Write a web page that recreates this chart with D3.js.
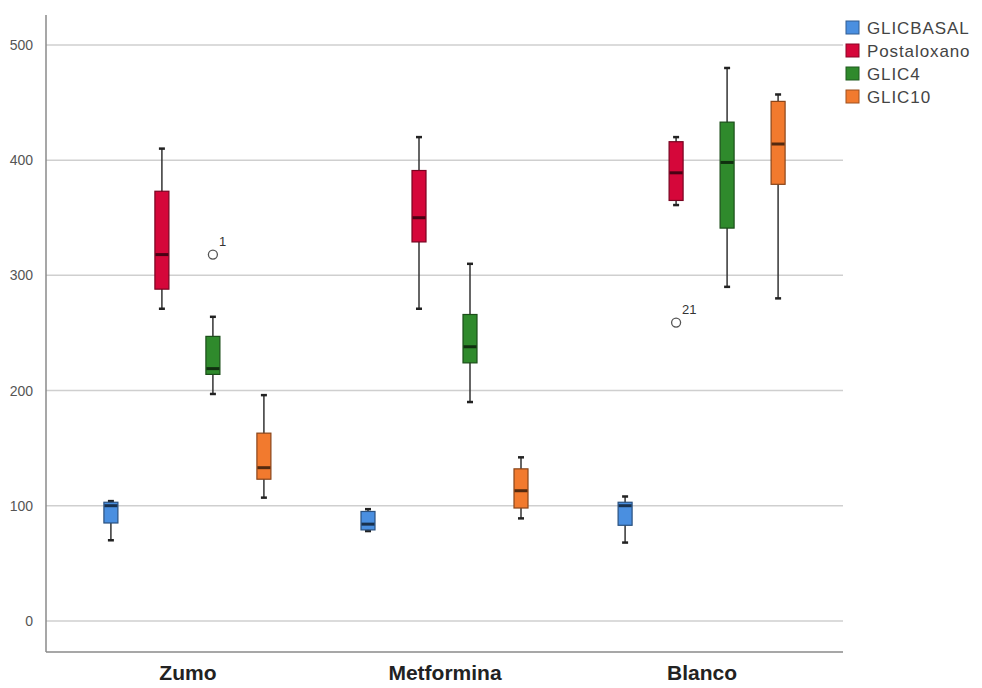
<!DOCTYPE html>
<html>
<head>
<meta charset="utf-8">
<script src="https://cdn.jsdelivr.net/npm/d3@7"></script>
<style>
  body { margin: 0; background: #fff; }
  svg { font-family: Arial, "Liberation Sans", sans-serif; }
</style>
</head>
<body>
<div id="chart"></div>
<script>
var groups = ["Zumo", "Metformina", "Blanco"];
var series = ["GLICBASAL", "Postaloxano", "GLIC4", "GLIC10"];
var colors = ["#4a8fe0", "#d5073a", "#2f8a2c", "#f27a2e"];
// one row per series, one value per group (Zumo, Metformina, Blanco)
var whiskerLow  = [[70, 78, 68],   [271, 271, 361], [197, 190, 290], [107, 89, 280]];
var q1          = [[85, 79, 83],   [288, 329, 365], [214, 224, 341], [123, 98, 379]];
var median      = [[100, 84, 100], [318, 350, 389], [219, 238, 398], [133, 113, 414]];
var q3          = [[103, 95, 103], [373, 391, 416], [247, 266, 433], [163, 132, 451]];
var whiskerHigh = [[104, 97, 108], [410, 420, 420], [264, 310, 480], [196, 142, 457]];
var outlierGroup  = ["Zumo", "Blanco"];
var outlierSeries = ["GLIC4", "Postaloxano"];
var outlierValue  = [318, 259];
var outlierLabel  = ["1", "21"];
var yTicks = [0, 100, 200, 300, 400, 500];

var width = 982, height = 688;
var plotL = 46, plotR = 843, plotT = 15, plotB = 652;

var svg = d3.select("#chart").append("svg")
    .attr("width", width)
    .attr("height", height);

var y = d3.scaleLinear().domain([-27, 526]).range([plotB, plotT]);
var x = d3.scalePoint().domain(groups).range([plotL, plotR]).padding(0.55);
var xs = d3.scaleBand().domain(series).range([-102, 102]);
var color = d3.scaleOrdinal().domain(series).range(colors);

// grid
svg.append("g")
    .selectAll("line")
    .data(yTicks)
    .enter()
    .append("line")
    .attr("x1", plotL).attr("x2", plotR)
    .attr("y1", function (d) { return y(d); })
    .attr("y2", function (d) { return y(d); })
    .attr("stroke", "#cfcfcf")
    .attr("stroke-width", 1.5);

// y axis
var yAxis = d3.axisLeft(y).tickValues(yTicks).tickSize(0).tickPadding(13);
var gy = svg.append("g").attr("transform", "translate(" + plotL + ",0)").call(yAxis);
gy.select(".domain").remove();
gy.selectAll("text").style("font-size", "14px").attr("fill", "#555");

svg.append("line")
    .attr("x1", plotL).attr("x2", plotL)
    .attr("y1", plotT).attr("y2", plotB)
    .attr("stroke", "#8a8a8a").attr("stroke-width", 1.5);

// x axis
var xAxis = d3.axisBottom(x).tickSize(0).tickPadding(13);
var gx = svg.append("g").attr("transform", "translate(0," + plotB + ")").call(xAxis);
gx.select(".domain").attr("stroke", "#8a8a8a").attr("stroke-width", 1.5)
    .attr("d", "M" + plotL + ",0H" + plotR);
gx.selectAll("text")
    .style("font-size", "21px")
    .style("font-weight", "bold")
    .attr("fill", "#222");

// boxes
var boxes = [];
series.forEach(function (s, si) {
    groups.forEach(function (g, gi) {
        boxes.push({
            group: g, series: s,
            lo: whiskerLow[si][gi], q1: q1[si][gi], med: median[si][gi],
            q3: q3[si][gi], hi: whiskerHigh[si][gi]
        });
    });
});

var boxW = 14, capW = 6;
var bx = svg.append("g")
    .selectAll("g")
    .data(boxes)
    .enter()
    .append("g")
    .attr("transform", function (d) {
        return "translate(" + (x(d.group) + xs(d.series) + xs.bandwidth() / 2) + ",0)";
    });

bx.append("line")
    .attr("x1", 0).attr("x2", 0)
    .attr("y1", function (d) { return y(d.hi); })
    .attr("y2", function (d) { return y(d.lo); })
    .attr("stroke", "#333").attr("stroke-width", 1.5);

bx.selectAll(".cap")
    .data(function (d) { return [d.hi, d.lo]; })
    .enter()
    .append("line")
    .attr("class", "cap")
    .attr("x1", -capW / 2).attr("x2", capW / 2)
    .attr("y1", function (v) { return y(v); })
    .attr("y2", function (v) { return y(v); })
    .attr("stroke", "#222").attr("stroke-width", 2.5);

bx.append("rect")
    .attr("x", -boxW / 2)
    .attr("width", boxW)
    .attr("y", function (d) { return y(d.q3); })
    .attr("height", function (d) { return y(d.q1) - y(d.q3); })
    .attr("fill", function (d) { return color(d.series); })
    .attr("stroke", function (d) { return d3.color(color(d.series)).darker(1.6); })
    .attr("stroke-width", 1.2);

bx.append("line")
    .attr("x1", -boxW / 2 + 0.5).attr("x2", boxW / 2 - 0.5)
    .attr("y1", function (d) { return y(d.med); })
    .attr("y2", function (d) { return y(d.med); })
    .attr("stroke", function (d) { return d3.color(color(d.series)).darker(3); })
    .attr("stroke-width", 3);

// outliers
var out = svg.append("g")
    .selectAll("g")
    .data(outlierValue)
    .enter()
    .append("g")
    .attr("transform", function (d, i) {
        return "translate(" + (x(outlierGroup[i]) + xs(outlierSeries[i]) + xs.bandwidth() / 2) + "," + y(d) + ")";
    });
out.append("circle")
    .attr("r", 4.5)
    .attr("fill", "none")
    .attr("stroke", "#555")
    .attr("stroke-width", 1.3);
out.append("text")
    .attr("x", 6).attr("y", -9)
    .text(function (d, i) { return outlierLabel[i]; })
    .style("font-size", "13px")
    .attr("fill", "#333");

// legend
var lg = svg.append("g")
    .selectAll("g")
    .data(series)
    .enter()
    .append("g")
    .attr("transform", function (d, i) { return "translate(846," + (21 + i * 23) + ")"; });
lg.append("rect")
    .attr("width", 13).attr("height", 13)
    .attr("fill", function (d) { return color(d); })
    .attr("stroke", function (d) { return d3.color(color(d)).darker(1.2); })
    .attr("stroke-width", 1);
lg.append("text")
    .attr("x", 21).attr("y", 13)
    .text(function (d) { return d; })
    .style("font-size", "17px")
    .style("letter-spacing", "0.9px")
    .attr("fill", "#444");
</script>
</body>
</html>
